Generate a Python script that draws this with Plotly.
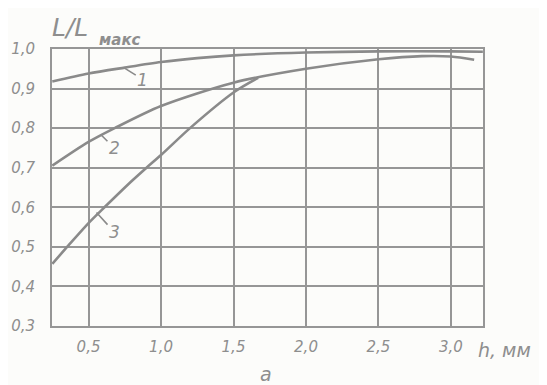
import plotly.graph_objects as go

# ---- data ----
h1 = [0.25, 0.5, 0.75, 1.0, 1.25, 1.5, 2.0, 2.5, 3.0, 3.22]
r1 = [0.918, 0.938, 0.953, 0.967, 0.977, 0.984, 0.991, 0.994, 0.994, 0.993]

h2 = [0.25, 0.5, 0.68, 1.0, 1.5, 2.0, 2.5, 2.8, 3.0, 3.16]
r2 = [0.705, 0.765, 0.800, 0.856, 0.915, 0.950, 0.974, 0.982, 0.981, 0.973]

h3 = [0.25, 0.36, 0.5, 0.61, 0.8, 0.9, 1.0, 1.2, 1.5, 1.67]
r3 = [0.457, 0.503, 0.560, 0.600, 0.667, 0.700, 0.732, 0.800, 0.890, 0.927]

x_ticks = [0.5, 1.0, 1.5, 2.0, 2.5, 3.0]
x_ticktext = ["0,5", "1,0", "1,5", "2,0", "2,5", "3,0"]
y_ticks = [0.3, 0.4, 0.5, 0.6, 0.7, 0.8, 0.9, 1.0]
y_ticktext = ["0,3", "0,4", "0,5", "0,6", "0,7", "0,8", "0,9", "1,0"]

curve_labels = ["1", "2", "3"]
label_points = [(0.743, 0.953), (0.589, 0.782), (0.555, 0.587)]
label_offsets = [(19, 12), (13, 13), (18, 20)]

INK = "#8a8a8a"
GRID = "#969696"
TXT = "#8e8e8e"
FONT = "DejaVu Sans"

fig = go.Figure()
for hx, ry in [(h1, r1), (h2, r2), (h3, r3)]:
    fig.add_trace(go.Scatter(x=hx, y=ry, mode="lines",
                             line=dict(color=INK, width=2.6, shape="spline", smoothing=0.8),
                             showlegend=False, hoverinfo="skip"))

for lab, (px, py), (ox, oy) in zip(curve_labels, label_points, label_offsets):
    fig.add_annotation(x=px, y=py, xref="x", yref="y", text=lab, showarrow=True,
                       arrowhead=0, arrowwidth=1.6, arrowcolor=INK, ax=ox, ay=oy,
                       standoff=0, font=dict(family=FONT, size=17, color=TXT, style="italic"))

# axis titles
fig.add_annotation(x=-0.005, y=1.079, xref="paper", yref="paper", text="L/L",
                   showarrow=False, xanchor="left", yanchor="middle",
                   font=dict(family=FONT, size=25, color=TXT, style="italic"))
fig.add_annotation(x=0.104, y=1.033, xref="paper", yref="paper", text="макс",
                   showarrow=False, xanchor="left", yanchor="middle",
                   font=dict(family=FONT, size=15, color=TXT, style="italic", weight="bold"))
fig.add_annotation(x=0.984, y=-0.085, xref="paper", yref="paper", text="h, мм",
                   showarrow=False, xanchor="left", yanchor="middle",
                   font=dict(family=FONT, size=19, color=TXT, style="italic"))
fig.add_annotation(x=0.497, y=-0.175, xref="paper", yref="paper", text="а",
                   showarrow=False, xanchor="center", yanchor="middle",
                   font=dict(family=FONT, size=19, color=TXT, style="italic"))

fig.update_xaxes(range=[0.248, 3.221], tickvals=x_ticks, ticktext=x_ticktext,
                 showgrid=True, gridcolor=GRID, gridwidth=2, zeroline=False,
                 showline=True, mirror=True, linecolor=GRID, linewidth=2,
                 ticks="", ticklabelstandoff=6, automargin=False,
                 tickfont=dict(family=FONT, size=15, color=TXT, style="italic"))
fig.update_yaxes(range=[0.3, 1.0], tickvals=y_ticks, ticktext=y_ticktext,
                 showgrid=True, gridcolor=GRID, gridwidth=2, zeroline=False,
                 showline=True, mirror=True, linecolor=GRID, linewidth=2,
                 ticks="", ticklabelstandoff=12, automargin=False,
                 tickfont=dict(family=FONT, size=15, color=TXT, style="italic"))

# page body has an 8px margin: shrink the figure so the plot lands where the reference's is
fig.update_layout(width=539, height=377,
                  margin=dict(l=44, r=64, t=41, b=59),
                  paper_bgcolor="#fcfcfa", plot_bgcolor="#fcfcfa")

fig.write_html("out.html")
